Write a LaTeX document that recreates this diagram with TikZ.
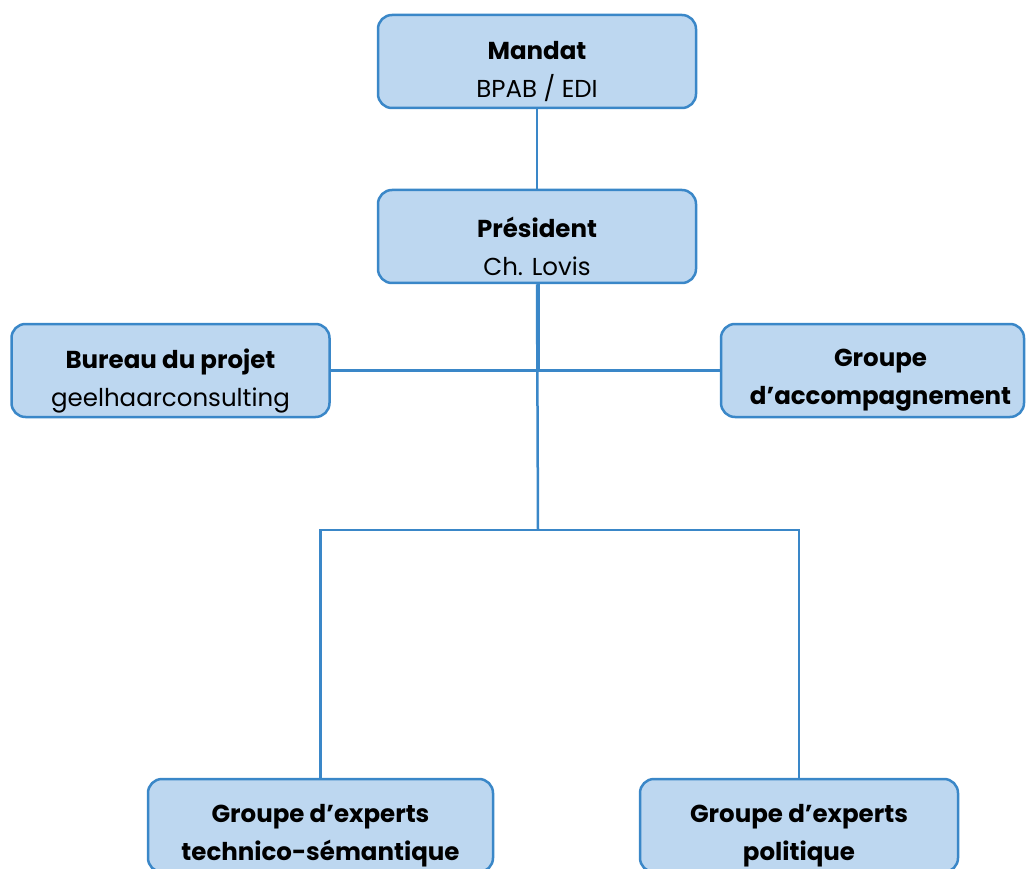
\documentclass[tikz,border=0pt]{standalone}
\usepackage{fontspec}
\setmainfont{Poppins}
\usetikzlibrary{positioning}
\definecolor{boxfill}{RGB}{189,215,240}
\definecolor{boxline}{RGB}{58,135,200}
\tikzset{
  orgbox/.style={draw=boxline, fill=boxfill, line width=2.5pt, rounded corners=14pt,
    minimum width=318pt, minimum height=93pt, inner sep=0pt},
  boxtext/.style={align=center, inner sep=0pt, font=\fontsize{24.5}{38}\selectfont},
  link/.style={draw=boxline, line width=2.5pt}
}
\begin{document}
\begin{tikzpicture}[x=1pt,y=-1pt]
  \useasboundingbox (0,0) rectangle (1026,869); % page size of the reference

  % upper chain
  \node[orgbox] (mandat) at (537,61.5) {};
  \node[boxtext] (mandat-t) at ([yshift=-10pt]mandat.center) {\textbf{Mandat}\\BPAB / EDI};
  \node[orgbox] (pres) at (537,236.5) {};
  \node[boxtext] (pres-t) at ([yshift=-10pt]pres.center) {\textbf{Président}\\Ch. Lovis};

  % side boxes
  \node[orgbox] (bureau) at (170.5,370.5) {};
  \node[boxtext] (bureau-t) at ([yshift=-10pt]bureau.center) {\textbf{Bureau du projet}\\geelhaarconsulting};
  \node[orgbox, minimum width=303pt] (accomp) at (872.5,370.5) {};
  \node[boxtext] (accomp-t) at ([xshift=8pt,yshift=-10pt]accomp.center) {\textbf{Groupe}\\\textbf{d’accompagnement}};

  % expert groups
  \node[orgbox, minimum width=345pt] (gtech) at (320.5,825.5) {};
  \node[boxtext] (gtech-t) at ([yshift=-10pt]gtech.center) {\textbf{Groupe d’experts}\\\textbf{technico-sémantique}};
  \node[orgbox] (gpol) at (799,825.5) {};
  \node[boxtext] (gpol-t) at ([yshift=-10pt]gpol.center) {\textbf{Groupe d’experts}\\\textbf{politique}};

  \coordinate (bus) at (538,530);

  \draw[link] (mandat) -- (pres);
  \draw[link] ([xshift=2pt]pres.south) -- ([xshift=2pt]pres.south |- bureau.east);
  \draw[link] (bureau) -- (accomp);
  \draw[link] (pres.south) -- (bus);
  \draw[link] (bus) -| (gtech.north);
  \draw[link] (bus) -| (gpol.north);
\end{tikzpicture}
\end{document}
